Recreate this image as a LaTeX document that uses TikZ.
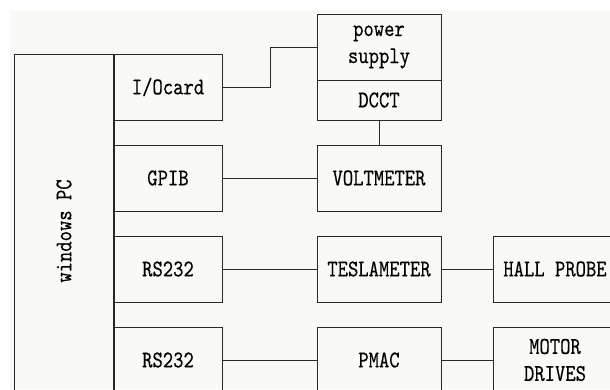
\documentclass[tikz,border=0pt]{standalone}
\usepackage{fontspec}
\newfontfamily\diagfont[FakeStretch=0.82,FakeBold=0.3]{lmmono10-regular.otf}
\usetikzlibrary{positioning}
\definecolor{paper}{RGB}{249,249,246}
\definecolor{ink}{RGB}{40,40,40}

\begin{document}
\begin{tikzpicture}[x=1pt,y=1pt,node distance=25pt,
        font=\diagfont\fontsize{24}{27}\selectfont,
        box/.style={draw=ink,line width=1pt,inner sep=0pt,outer sep=0pt,align=center},
        card/.style={box,minimum width=108pt,minimum height=66pt},
        unit/.style={box,minimum width=124pt,minimum height=66pt},
        wire/.style={draw=ink,line width=1pt}]
        \useasboundingbox (0,0) rectangle (610,-389);
        \clip (0,0) rectangle (610,-389);
        \fill[paper] (10,-10) rectangle (610,-389);
        % computer and its cards
        \node[box,rotate=90,minimum width=354pt,minimum height=100pt] (pc) at (64,-231) {windows PC};
        \node[card,anchor=north west] (io) at (114,-54) {I/Ocard};
        \node[card,below=of io] (gpib) {GPIB};
        \node[card,below=of gpib] (rsa) {RS232};
        \node[card,below=of rsa] (rsb) {RS232};
        \draw[wire,line width=2pt] (pc.south west) -- (pc.south east);
        % instruments
        \node[unit,anchor=north west] (psu) at (317,-14) {power\\supply};
        \node[unit,minimum height=40pt,below=0pt of psu] (dcct) {DCCT};
        \node[unit,below=of dcct] (volt) {VOLTMETER};
        \node[unit,below=of volt] (tesla) {TESLAMETER};
        \node[unit,below=of tesla] (pmac) {PMAC};
        \node[unit,right=52pt of tesla] (hall) {HALL PROBE};
        \node[unit,right=52pt of pmac] (motor) {MOTOR\\DRIVES};
        % wiring
        \draw[wire] (io.east) -- ++(48,0) |- (psu.west);
        \draw[wire] (dcct) -- (volt);
        \draw[wire] (gpib) -- (volt);
        \draw[wire] (rsa) -- (tesla);
        \draw[wire] (tesla) -- (hall);
        \draw[wire] (rsb) -- (pmac);
        \draw[wire] (pmac) -- (motor);
\end{tikzpicture}
\end{document}
